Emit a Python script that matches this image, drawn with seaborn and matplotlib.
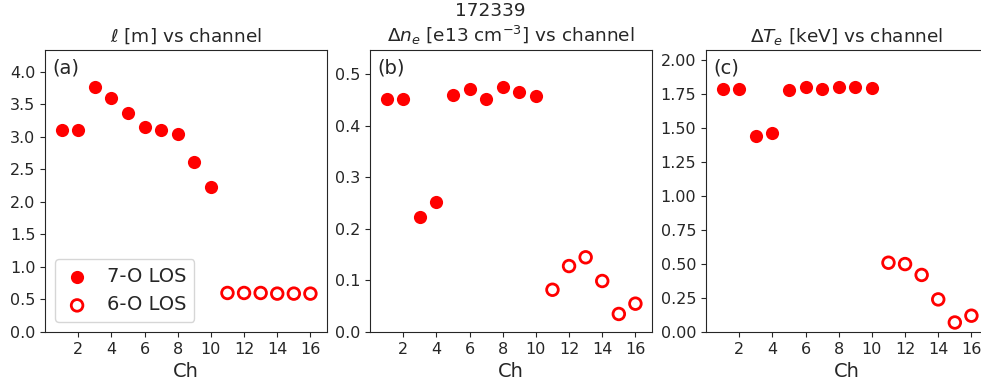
import numpy as np
import pandas as pd
import matplotlib
matplotlib.use("Agg")
import matplotlib.pyplot as plt
import seaborn as sns

sns.set_style("ticks")
plt.rcParams['font.family'] = ['DejaVu Sans']

channels_7o = [1, 2, 3, 4, 5, 6, 7, 8, 9, 10]
channels_6o = [11, 12, 13, 14, 15, 16]

ell_7o = [3.10, 3.10, 3.77, 3.60, 3.36, 3.15, 3.10, 3.04, 2.62, 2.23]
ell_6o = [0.60, 0.60, 0.60, 0.59, 0.59, 0.59]

dne_7o = [0.453, 0.453, 0.223, 0.252, 0.460, 0.472, 0.453, 0.476, 0.466, 0.458]
dne_6o = [0.082, 0.128, 0.145, 0.099, 0.035, 0.055]

dte_7o = [1.79, 1.79, 1.44, 1.465, 1.78, 1.805, 1.79, 1.805, 1.80, 1.795]
dte_6o = [0.51, 0.50, 0.42, 0.24, 0.07, 0.12]

titles = [r"$\ell$ [m] vs channel",
          r"$\Delta n_e$ [e13 cm$^{-3}$] vs channel",
          r"$\Delta T_e$ [keV] vs channel"]
letters = ["(a)", "(b)", "(c)"]
suptitle = "172339"
legend_labels = ["7-O LOS", "6-O LOS"]

fig = plt.figure(figsize=(9.81, 3.85), dpi=100)
lefts = [45 / 981, 370 / 981, 706 / 981]
width = 282 / 981
bottom = (385 - 332) / 385
height = 282 / 385

yticks = [np.arange(0, 4.01, 0.5), np.arange(0, 0.51, 0.1), np.arange(0, 2.01, 0.25)]
yfmts = ["%.1f", "%.1f", "%.2f"]

datasets = [(ell_7o, ell_6o), (dne_7o, dne_6o), (dte_7o, dte_6o)]
for i, (d7, d6) in enumerate(datasets):
    ax = fig.add_axes([lefts[i], bottom, width, height])
    sns.scatterplot(x=channels_7o, y=d7, ax=ax, color="red", s=90,
                    linewidth=0, label=legend_labels[0], zorder=3)
    sns.scatterplot(x=channels_6o, y=d6, ax=ax, facecolors="none",
                    edgecolors="red", s=70, linewidth=2,
                    label=legend_labels[1], zorder=3)
    ymax = 1.15 * max(max(d7), max(d6))
    ax.set_yticks(yticks[i])
    ax.yaxis.set_major_formatter(matplotlib.ticker.FormatStrFormatter(yfmts[i]))
    ax.set_ylim(0, ymax)
    ax.set_xlim(0, 17)
    ax.set_xticks([2, 4, 6, 8, 10, 12, 14, 16])
    ax.tick_params(labelsize=11.5)
    ax.set_xlabel("Ch", fontsize=14)
    ax.set_title(titles[i], fontsize=13.3)
    ax.text(0.025, 0.97, letters[i], transform=ax.transAxes, ha="left",
            va="top", fontsize=14)
    if i == 0:
        ax.legend(loc="lower left", fontsize=14, frameon=True,
                  handletextpad=0.8, handlelength=1.5, borderpad=0.4)
    else:
        ax.get_legend().remove()

fig.suptitle(suptitle, fontsize=13.3, y=0.995)
fig.savefig("out.png", dpi=100)
